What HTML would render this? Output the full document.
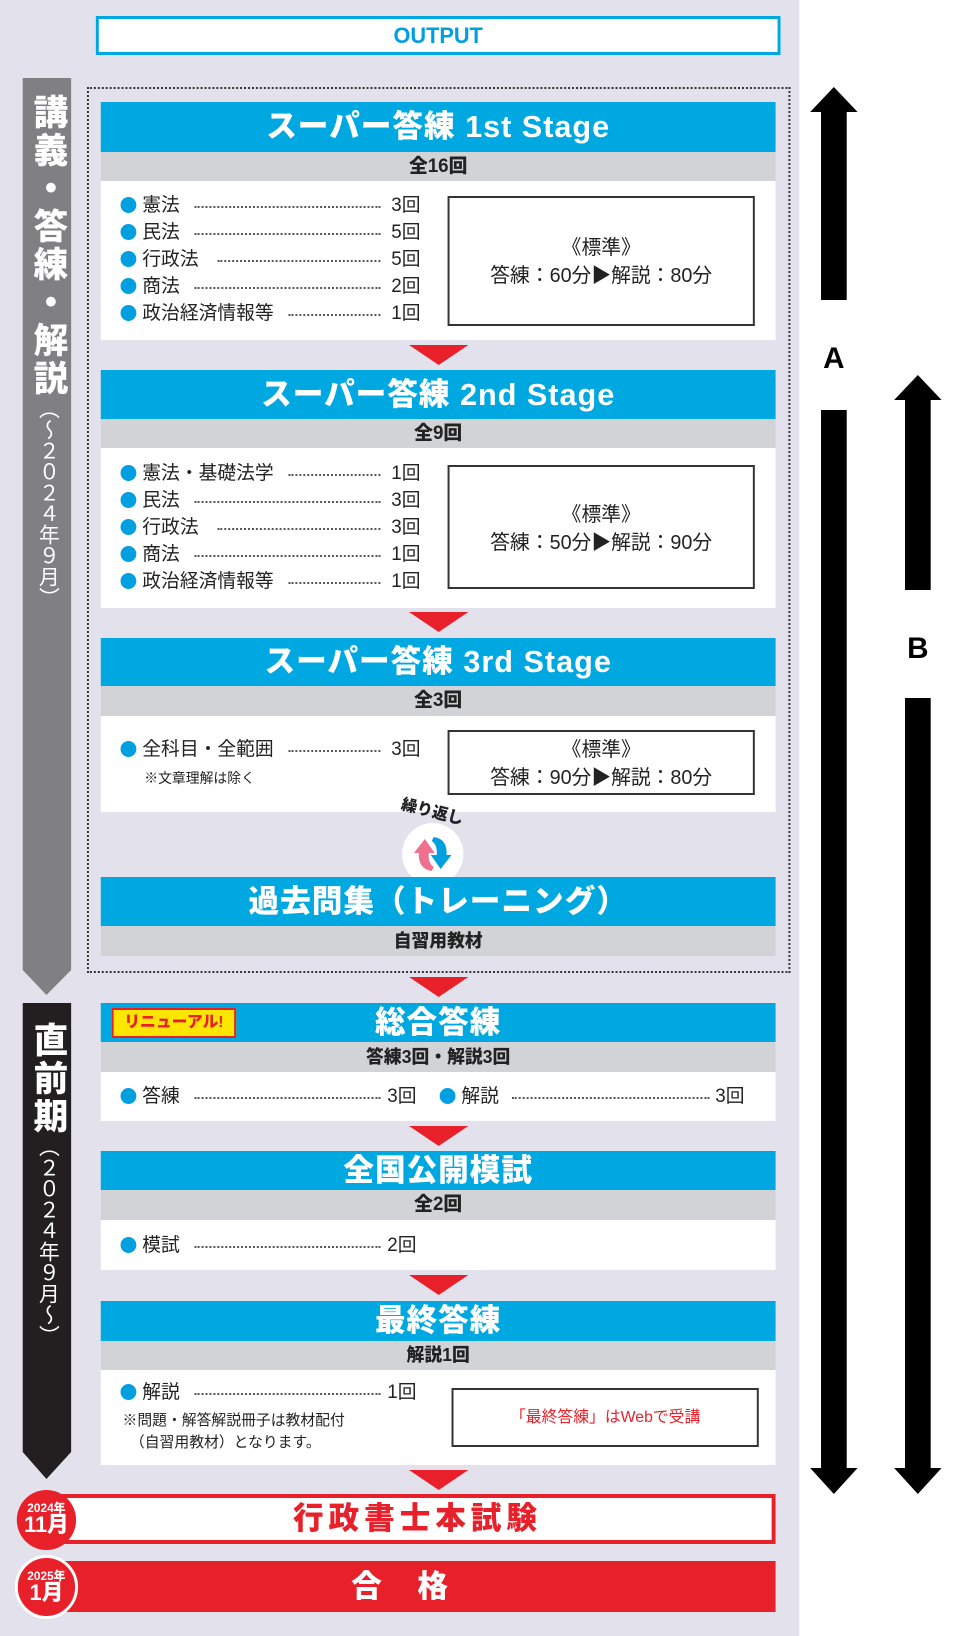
<!DOCTYPE html>
<html><head><meta charset="utf-8"><style>
*{margin:0;padding:0;box-sizing:border-box}
body{width:968px;height:1636px;position:relative;background:#fff;font-family:"Liberation Sans","Noto Sans CJK JP",sans-serif;overflow:hidden}
#w{position:absolute;left:0;top:0;width:980px;height:1636px;transform:scale(0.988,1);transform-origin:0 0}
.a{position:absolute}
.hd{position:absolute;left:102px;width:683px;background:#00a8e2;color:#fff;font-weight:900;text-align:center;font-size:31px;letter-spacing:1px}
.sb{position:absolute;left:102px;width:683px;background:#d2d3d7;color:#222;font-weight:900;text-align:center;font-size:19px}
.bd{position:absolute;left:102px;width:683px;background:#fff}
.it{position:absolute;font-size:19px;color:#222;height:22px;line-height:22px;white-space:nowrap}
.it i{display:inline-block;width:16px;height:16px;border-radius:50%;background:#00a0e0;vertical-align:-2px;margin-right:6px}
.dt{position:absolute;height:2px;border-top:2px dotted #555}
.ct{position:absolute;font-size:19px;color:#222;line-height:22px}
.tri{position:absolute;left:414px;width:0;height:0;border-left:30px solid transparent;border-right:30px solid transparent;border-top:20px solid #e8202a}
.bx{position:absolute;border:2px solid #333;background:#fff;text-align:center;font-size:20px;color:#222}
.vt{position:absolute;left:27px;width:42px;writing-mode:vertical-rl;color:#fff;font-weight:900;font-size:35px;line-height:42px;letter-spacing:3px}
.vt span{font-size:21px;font-weight:400;letter-spacing:0}
</style></head><body><div id="w">
<div class="a" style="left:0;top:0;width:809px;height:1636px;background:#e3e2ec"></div>
<div class="a" style="left:97px;top:16px;width:693px;height:39px;border:3px solid #00a8e2;background:#fff;color:#00a0e0;font-weight:900;font-size:22px;text-align:center;line-height:33px">OUTPUT</div>
<div class="a" style="left:88px;top:87px;width:712px;height:886px;border:2px dotted #333"></div>

<svg class="a" style="left:0;top:0" width="100" height="1636">
<polygon points="23,78 72,78 72,970 47,995 23,970" fill="#808083"/>
<polygon points="23,1003 72,1003 72,1452 47,1479 23,1452" fill="#231f20"/>
</svg>
<div class="vt" style="top:94px">講義・答練・解説<span>（〜２０２４年９月）</span></div>
<div class="vt" style="top:1022px">直前期<span>（２０２４年９月〜）</span></div>

<svg class="a" style="left:800px;top:0" width="168" height="1636">
<polygon points="44,87 68,112 57,112 57,300 31,300 31,112 20,112" fill="#000"/>
<polygon points="31,410 57,410 57,1468 68,1468 44,1494 20,1468 31,1468" fill="#000"/>
<text x="44" y="368" font-family="Liberation Sans" font-weight="bold" font-size="30" text-anchor="middle">A</text>
<polygon points="129,375 153,400 142,400 142,590 116,590 116,400 105,400" fill="#000"/>
<polygon points="116,698 142,698 142,1468 153,1468 129,1494 105,1468 116,1468" fill="#000"/>
<text x="129" y="658" font-family="Liberation Sans" font-weight="bold" font-size="30" text-anchor="middle">B</text>
</svg>

<div class="hd" style="top:102px;height:50px;line-height:50px">スーパー答練 1st Stage</div>
<div class="sb" style="top:152px;height:29px;line-height:29px">全16回</div>
<div class="bd" style="top:181px;height:159px"></div>
<div class="it" style="left:122px;top:195px"><i></i>憲法</div><div class="dt" style="left:197px;width:188px;top:206px"></div><div class="ct" style="left:396px;top:195px">3回</div>
<div class="it" style="left:122px;top:222px"><i></i>民法</div><div class="dt" style="left:197px;width:188px;top:233px"></div><div class="ct" style="left:396px;top:222px">5回</div>
<div class="it" style="left:122px;top:249px"><i></i>行政法</div><div class="dt" style="left:220px;width:165px;top:260px"></div><div class="ct" style="left:396px;top:249px">5回</div>
<div class="it" style="left:122px;top:276px"><i></i>商法</div><div class="dt" style="left:197px;width:188px;top:287px"></div><div class="ct" style="left:396px;top:276px">2回</div>
<div class="it" style="left:122px;top:303px"><i></i>政治経済情報等</div><div class="dt" style="left:292px;width:93px;top:314px"></div><div class="ct" style="left:396px;top:303px">1回</div>
<div class="bx" style="left:453px;top:196px;width:311px;height:130px;padding-top:36px;line-height:28px">《標準》<br>答練：60分▶解説：80分</div>
<div class="tri" style="top:345px"></div>

<div class="hd" style="top:370px;height:49px;line-height:49px">スーパー答練 2nd Stage</div>
<div class="sb" style="top:419px;height:29px;line-height:29px">全9回</div>
<div class="bd" style="top:448px;height:160px"></div>
<div class="it" style="left:122px;top:463px"><i></i>憲法・基礎法学</div><div class="dt" style="left:292px;width:93px;top:474px"></div><div class="ct" style="left:396px;top:463px">1回</div>
<div class="it" style="left:122px;top:490px"><i></i>民法</div><div class="dt" style="left:197px;width:188px;top:501px"></div><div class="ct" style="left:396px;top:490px">3回</div>
<div class="it" style="left:122px;top:517px"><i></i>行政法</div><div class="dt" style="left:220px;width:165px;top:528px"></div><div class="ct" style="left:396px;top:517px">3回</div>
<div class="it" style="left:122px;top:544px"><i></i>商法</div><div class="dt" style="left:197px;width:188px;top:555px"></div><div class="ct" style="left:396px;top:544px">1回</div>
<div class="it" style="left:122px;top:571px"><i></i>政治経済情報等</div><div class="dt" style="left:292px;width:93px;top:582px"></div><div class="ct" style="left:396px;top:571px">1回</div>
<div class="bx" style="left:453px;top:465px;width:311px;height:124px;padding-top:34px;line-height:28px">《標準》<br>答練：50分▶解説：90分</div>
<div class="tri" style="top:612px"></div>

<div class="hd" style="top:638px;height:48px;line-height:48px">スーパー答練 3rd Stage</div>
<div class="sb" style="top:686px;height:30px;line-height:30px">全3回</div>
<div class="bd" style="top:716px;height:96px"></div>
<div class="it" style="left:122px;top:739px"><i></i>全科目・全範囲</div><div class="dt" style="left:292px;width:93px;top:750px"></div><div class="ct" style="left:396px;top:739px">3回</div>
<div class="a" style="left:146px;top:768px;font-size:14px;color:#222">※文章理解は除く</div>
<div class="bx" style="left:453px;top:730px;width:311px;height:65px;padding-top:4px;line-height:28px">《標準》<br>答練：90分▶解説：80分</div>
<div class="a" style="left:406px;top:798px;font-size:16px;font-weight:900;color:#222;transform:rotate(14deg)">繰り返し</div>
<div class="a" style="left:407px;top:823px;width:62px;height:62px;border-radius:50%;background:#fff"></div>
<svg class="a" style="left:407px;top:823px" width="62" height="62">
<path d="M30 48 Q16 46 17 30 L12 30 L23 16 L33 30 L27 30 Q26 40 32 44Z" fill="#f07090"/>
<path d="M32 14 Q46 16 45 32 L50 32 L39 46 L29 32 L35 32 Q36 22 30 18Z" fill="#00a0e0"/>
</svg>

<div class="hd" style="top:877px;height:49px;line-height:49px">過去問集（トレーニング）</div>
<div class="sb" style="top:926px;height:30px;line-height:30px;font-size:18px">自習用教材</div>
<div class="tri" style="top:977px"></div>

<div class="hd" style="top:1003px;height:39px;line-height:39px">総合答練</div>
<div class="a" style="left:113px;top:1008px;width:126px;height:30px;background:#ffe600;border:2px solid #e8202a;color:#e8202a;font-weight:900;font-size:16px;text-align:center;line-height:26px">リニューアル!</div>
<div class="sb" style="top:1042px;height:30px;line-height:30px;font-size:18px">答練3回・解説3回</div>
<div class="bd" style="top:1072px;height:49px"></div>
<div class="it" style="left:122px;top:1086px"><i></i>答練</div><div class="dt" style="left:197px;width:188px;top:1097px"></div><div class="ct" style="left:392px;top:1086px">3回</div>
<div class="it" style="left:445px;top:1086px"><i></i>解説</div><div class="dt" style="left:518px;width:200px;top:1097px"></div><div class="ct" style="left:724px;top:1086px">3回</div>
<div class="tri" style="top:1126px"></div>

<div class="hd" style="top:1151px;height:39px;line-height:39px">全国公開模試</div>
<div class="sb" style="top:1190px;height:30px;line-height:30px">全2回</div>
<div class="bd" style="top:1220px;height:50px"></div>
<div class="it" style="left:122px;top:1235px"><i></i>模試</div><div class="dt" style="left:197px;width:188px;top:1246px"></div><div class="ct" style="left:392px;top:1235px">2回</div>
<div class="tri" style="top:1275px"></div>

<div class="hd" style="top:1301px;height:40px;line-height:40px">最終答練</div>
<div class="sb" style="top:1341px;height:29px;line-height:29px;font-size:18px">解説1回</div>
<div class="bd" style="top:1370px;height:95px"></div>
<div class="it" style="left:122px;top:1382px"><i></i>解説</div><div class="dt" style="left:197px;width:188px;top:1393px"></div><div class="ct" style="left:392px;top:1382px">1回</div>
<div class="a" style="left:124px;top:1410px;font-size:15px;color:#222;line-height:22px">※問題・解答解説冊子は教材配付<br>　（自習用教材）となります。</div>
<div class="bx" style="left:457px;top:1388px;width:311px;height:59px;line-height:55px;color:#e8202a;font-size:16px">「最終答練」はWebで受講</div>
<div class="tri" style="top:1470px"></div>

<div class="a" style="left:60px;top:1494px;width:725px;height:50px;border:4px solid #e8202a;background:#fff;color:#e8202a;font-weight:900;font-size:31px;text-align:center;line-height:42px;letter-spacing:5px">行政書士本試験</div>
<div class="a" style="left:17px;top:1490px;width:60px;height:60px;border-radius:50%;background:#e8202a;color:#fff;font-weight:900;text-align:center;line-height:1"><div style="font-size:12px;margin-top:12px">2024年</div><div style="font-size:22px">11月</div></div>
<div class="a" style="left:60px;top:1561px;width:725px;height:51px;background:#e8202a;color:#fff;font-weight:900;font-size:31px;text-align:center;line-height:51px;letter-spacing:36px">合格</div>
<div class="a" style="left:15px;top:1555px;width:64px;height:64px;border-radius:50%;background:#e8202a;border:3px solid #fff;color:#fff;font-weight:900;text-align:center;line-height:1"><div style="font-size:12px;margin-top:12px">2025年</div><div style="font-size:22px">1月</div></div>
</div></body></html>
